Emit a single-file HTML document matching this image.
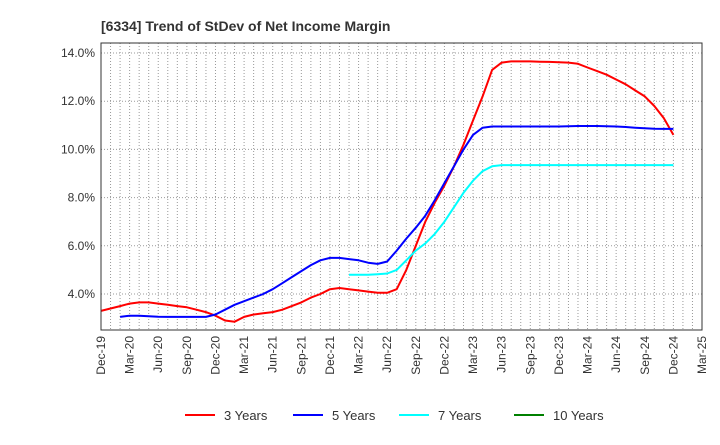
<!DOCTYPE html>
<html><head><meta charset="utf-8"><style>
body{margin:0;background:#fff;font-family:"Liberation Sans",Arial,sans-serif}
svg text{font-family:"Liberation Sans",Arial,sans-serif}
</style></head><body>
<svg id="c" width="720" height="440" xmlns="http://www.w3.org/2000/svg">
<text x="101" y="31" font-size="14" font-weight="bold" fill="#333">[6334]  Trend of StDev of Net Income Margin</text>
<g id="grid"></g><g id="series"></g><g id="axes"></g><g id="legend"></g>
</svg>
<script>
const yTicks=[4,6,8,10,12,14];
const xLabels=["Dec-19","Mar-20","Jun-20","Sep-20","Dec-20","Mar-21","Jun-21","Sep-21","Dec-21","Mar-22","Jun-22","Sep-22","Dec-22","Mar-23","Jun-23","Sep-23","Dec-23","Mar-24","Jun-24","Sep-24","Dec-24","Mar-25"];
const names=["3 Years","5 Years","7 Years","10 Years"];
const colors=["#ff0000","#0000ff","#00ffff","#008000"];
// monthly values from Dec-19 (index 0); null = no data
const s3=[3.3,3.4,3.5,3.6,3.65,3.65,3.6,3.55,3.5,3.45,3.35,3.25,3.1,2.9,2.85,3.05,3.15,3.2,3.25,3.35,3.5,3.65,3.85,4.0,4.2,4.25,4.2,4.15,4.1,4.05,4.05,4.2,5.0,6.0,7.0,7.8,8.5,9.3,10.2,11.2,12.2,13.3,13.6,13.65,13.65,13.65,13.64,13.63,13.62,13.6,13.55,13.4,13.25,13.1,12.9,12.7,12.45,12.2,11.8,11.3,10.6];
const s5=[null,null,3.05,3.1,3.1,3.08,3.06,3.05,3.05,3.05,3.05,3.05,3.15,3.35,3.55,3.7,3.85,4.0,4.2,4.45,4.7,4.95,5.2,5.4,5.5,5.5,5.45,5.4,5.3,5.25,5.35,5.8,6.3,6.75,7.25,7.9,8.6,9.3,10.0,10.6,10.9,10.95,10.95,10.95,10.95,10.95,10.95,10.95,10.95,10.96,10.97,10.97,10.97,10.96,10.95,10.93,10.9,10.88,10.86,10.85,10.85];
const s7=[null,null,null,null,null,null,null,null,null,null,null,null,null,null,null,null,null,null,null,null,null,null,null,null,null,null,4.8,4.8,4.8,4.82,4.85,5.0,5.4,5.8,6.1,6.5,7.0,7.6,8.2,8.7,9.1,9.3,9.35,9.35,9.35,9.35,9.35,9.35,9.35,9.35,9.35,9.35,9.35,9.35,9.35,9.35,9.35,9.35,9.35,9.35,9.35];
const s10=[];
const L=101,R=702,T=43,B=330;
const X=i=>L+i*(R-L)/63, Y=v=>294-(v-4)*24.1;
const NS="http://www.w3.org/2000/svg";
function mk(p,t,a){const e=document.createElementNS(NS,t);for(const k in a)e.setAttribute(k,a[k]);document.getElementById(p).appendChild(e);return e;}
for(let i=1;i<63;i++){const g=mk("grid","line",{x1:X(i),x2:X(i),y1:T,y2:B,stroke:"#999","stroke-dasharray":"1,2","stroke-width":1});

}
yTicks.forEach(v=>{const g=mk("grid","line",{x1:L,x2:R,y1:Y(v),y2:Y(v),stroke:"#999","stroke-dasharray":"1,2"});


const t=mk("axes","text",{x:L-6,y:Y(v)+4,"text-anchor":"end","font-size":12,fill:"#333"});t.textContent=v.toFixed(1)+"%";

});
const fr=mk("axes","rect",{x:L,y:T,width:R-L,height:B-T,fill:"none",stroke:"#333"});


xLabels.forEach((s,k)=>{const x=X(k*3);const t=mk("axes","text",{transform:`translate(${x+4},${B+6}) rotate(-90)`,"text-anchor":"end","font-size":12,fill:"#333"});t.textContent=s;

});
[s3,s5,s7,s10].forEach((s,j)=>{let d="";let pen=false;s.forEach((v,i)=>{if(v==null){pen=false;return;}d+=(pen?"L":"M")+X(i).toFixed(1)+","+Y(v).toFixed(1);pen=true;});
if(!d)return;const p=mk("series","path",{d:d,fill:"none",stroke:colors[j],"stroke-width":2,"stroke-linejoin":"round"});

});
const lx=[185,293,399,514];
names.forEach((n,j)=>{const l=mk("legend","line",{x1:lx[j],x2:lx[j]+30,y1:415,y2:415,stroke:colors[j],"stroke-width":2});


const t=mk("legend","text",{x:lx[j]+39,y:420,"font-size":13,fill:"#333"});t.textContent=n;

});
</script>
</body></html>
